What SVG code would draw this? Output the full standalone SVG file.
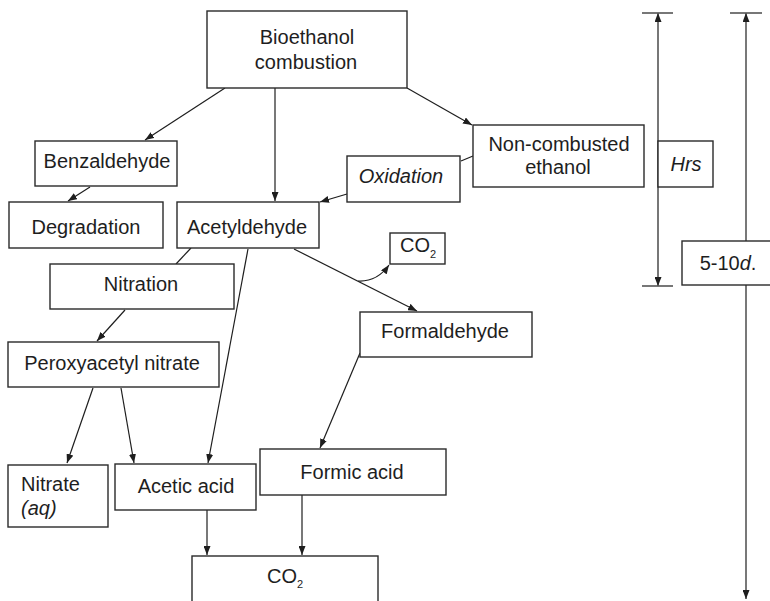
<svg xmlns="http://www.w3.org/2000/svg" width="770" height="601" viewBox="0 0 770 601">
<style>
.box{fill:#fff;stroke:#2a2a2a;stroke-width:1.4}
.t{font-family:"Liberation Sans",Arial,sans-serif;font-size:20px;fill:#1e1e1e;text-anchor:middle}
.i{font-style:italic}
.sub{font-size:11px}
.c{fill:none;stroke:#1e1e1e;stroke-width:1.2}
.g{fill:none;stroke:#555;stroke-width:1.6}
</style>
<defs>
<marker id="ah" viewBox="0 0 9 7" refX="9" refY="3.5" markerWidth="9" markerHeight="7" markerUnits="userSpaceOnUse" orient="auto-start-reverse">
<path d="M0,0 L9,3.5 L0,7 z" fill="#1e1e1e"/>
</marker>
</defs>
<rect width="770" height="601" fill="#fff"/>
<g id="connectors">
<line class="c" x1="225" y1="88" x2="145" y2="140" marker-end="url(#ah)"/>
<line class="c" x1="275" y1="88" x2="275" y2="201" marker-end="url(#ah)"/>
<line class="c" x1="407" y1="88" x2="472" y2="125" marker-end="url(#ah)"/>
<line class="c" x1="90" y1="187" x2="68" y2="201" marker-end="url(#ah)"/>
<line class="c" x1="473" y1="156" x2="461" y2="161"/>
<line class="c" x1="347" y1="194" x2="320" y2="202" marker-end="url(#ah)"/>
<line class="c" x1="191" y1="248" x2="176" y2="264"/>
<line class="c" x1="248" y1="249" x2="208" y2="463" marker-end="url(#ah)"/>
<line class="c" x1="294" y1="249" x2="417" y2="311" marker-end="url(#ah)"/>
<path class="c" d="M358,281 Q377,282 389,265" marker-end="url(#ah)"/>
<line class="c" x1="125" y1="310" x2="97" y2="341" marker-end="url(#ah)"/>
<line class="c" x1="93" y1="388" x2="67" y2="463" marker-end="url(#ah)"/>
<line class="c" x1="121" y1="388" x2="134" y2="463" marker-end="url(#ah)"/>
<line class="c" x1="360" y1="353" x2="320" y2="448" marker-end="url(#ah)"/>
<line class="c" x1="207" y1="510" x2="207" y2="555" marker-end="url(#ah)"/>
<line class="c" x1="302" y1="495" x2="302" y2="555" marker-end="url(#ah)"/>
<line class="g" x1="658" y1="13" x2="658" y2="286" marker-start="url(#ah)" marker-end="url(#ah)"/>
<line class="g" x1="642" y1="13" x2="673" y2="13"/>
<line class="g" x1="642" y1="286" x2="673" y2="286"/>
<line class="c" x1="746" y1="13" x2="746" y2="599" marker-start="url(#ah)" marker-end="url(#ah)"/>
<line class="g" x1="730" y1="13" x2="762" y2="13"/>
</g>
<g id="bioethanol">
<rect class="box" x="207" y="11" width="200" height="77"/>
<text class="t" x="307" y="44">Bioethanol</text>
<text class="t" x="306" y="69">combustion</text>
</g>
<g id="benzaldehyde">
<rect class="box" x="35" y="141" width="142" height="45"/>
<text class="t" x="107" y="168">Benzaldehyde</text>
</g>
<g id="degradation">
<rect class="box" x="9" y="202" width="154" height="46"/>
<text class="t" x="86" y="234">Degradation</text>
</g>
<g id="acetyldehyde">
<rect class="box" x="177" y="202" width="142" height="46"/>
<text class="t" x="247" y="234">Acetyldehyde</text>
</g>
<g id="oxidation">
<rect class="box" x="347" y="156" width="113" height="46"/>
<text class="t i" x="401" y="183">Oxidation</text>
</g>
<g id="noncombusted">
<rect class="box" x="473" y="125" width="171" height="62"/>
<text class="t" x="559" y="151">Non-combusted</text>
<text class="t" x="558" y="174">ethanol</text>
</g>
<g id="hrs">
<rect class="box" x="658" y="141" width="55" height="46"/>
<text class="t i" x="686" y="171">Hrs</text>
</g>
<g id="days">
<rect class="box" x="682" y="241" width="100" height="44"/>
<text class="t" x="728" y="270">5-10<tspan class="i">d</tspan>.</text>
</g>
<g id="co2small">
<rect class="box" x="390" y="233" width="55" height="31"/>
<text class="t" x="418" y="252">CO<tspan class="sub" dy="6">2</tspan></text>
</g>
<g id="nitration">
<rect class="box" x="50" y="264" width="184" height="45"/>
<text class="t" x="141" y="291">Nitration</text>
</g>
<g id="formaldehyde">
<rect class="box" x="360" y="312" width="172" height="45"/>
<text class="t" x="445" y="338">Formaldehyde</text>
</g>
<g id="pan">
<rect class="box" x="8" y="342" width="211" height="45"/>
<text class="t" x="112" y="370">Peroxyacetyl nitrate</text>
</g>
<g id="nitrate">
<rect class="box" x="8" y="465" width="100" height="62"/>
<text class="t" x="21" y="491" text-anchor="start" style="text-anchor:start">Nitrate</text>
<text class="t i" x="21" y="515" style="text-anchor:start">(aq)</text>
</g>
<g id="acetic">
<rect class="box" x="115" y="464" width="141" height="46"/>
<text class="t" x="186" y="493">Acetic acid</text>
</g>
<g id="formic">
<rect class="box" x="260" y="449" width="186" height="46"/>
<text class="t" x="352" y="479">Formic acid</text>
</g>
<g id="co2">
<rect class="box" x="192" y="556" width="186" height="60"/>
<text class="t" x="285" y="583">CO<tspan class="sub" dy="5">2</tspan></text>
</g>
</svg>
